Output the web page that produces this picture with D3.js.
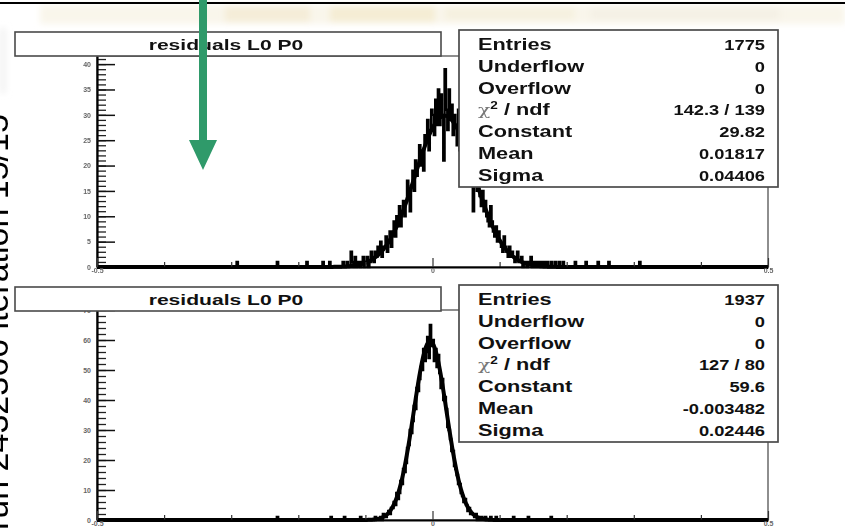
<!DOCTYPE html>
<html>
<head>
<meta charset="utf-8">
<script src="https://cdn.jsdelivr.net/npm/d3@7"></script>
<style>
  body { margin: 0; background: #fff; }
  svg { display: block; }
</style>
</head>
<body>
<svg id="chart" width="845" height="528"></svg>
<script>
// ---- histogram binning ----
const binWidth = 0.002;
const xDomain = [-0.5, 0.5];
const xMajorTicks = [-0.5, 0, 0.5];
const xMinorTicks = [-0.4, -0.3, -0.2, -0.1, 0.1, 0.2, 0.3, 0.4];

// ---- upper histogram: residuals L0 P0 ----
const title1 = "residuals L0 P0";
const core1Start = -0.14;
const core1Counts = [
  0, 0, 0, 1, 0,   0, 1, 0, 0, 3,   1, 0, 2, 0, 1,   1, 0, 1, 2, 0,
  1, 2, 0, 1, 3,   2, 1, 3, 2, 4,   3, 5, 2, 4, 4,   6, 3, 5, 7, 4,
  7, 9, 6, 10, 8,  12, 8, 11, 13, 10,  13, 17, 14, 11, 16,  19, 15, 21, 18, 20,
  24, 20, 23, 19, 26,  25, 29, 23, 27, 31,  30, 26, 33, 28, 35,  28, 34, 30, 21, 39,
  31, 27, 35, 29, 32,  26, 30, 28, 24, 31,  23, 27, 25, 21, 26,  22, 18, 21, 24, 19,
  11, 18, 16, 15, 17,  14, 12, 15, 11, 13,  10, 9, 8, 12, 9,  7, 6, 8, 5, 7,
  5, 4, 3, 6, 4,   3, 2, 4, 2, 3,   2, 1, 2, 3, 1,   1, 2, 0, 1, 1,
  0, 1, 1, 2, 0,   1, 0, 1, 0, 1,   0, 1, 0, 1, 0,   1, 0, 0, 1, 0,
  0, 1, 0, 0, 1,   0, 0, 1, 0, 0
];
const tail1 = [[-0.291, 1], [-0.231, 1], [-0.187, 1], [-0.163, 1], [-0.152, 1],
               [0.213, 1], [0.229, 1], [0.247, 1], [0.262, 1], [0.309, 1]];
const yMax1 = 41.6;
const yMajor1 = [0, 5, 10, 15, 20, 25, 30, 35, 40];
const yMinor1 = d3.range(0, 42, 1);
const entries1 = [1775, 0, 0];
const chi2ndf1 = [142.3, 139];
const fit1 = [29.82, 0.01817, 0.04406];   // Constant, Mean, Sigma

// ---- lower histogram: residuals L0 P0 ----
const title2 = "residuals L0 P0";
const core2Start = -0.09;
const core2Counts = [
  0, 0, 1, 0, 0,   0, 1, 0, 2, 1,   1, 2, 3, 2, 4,   4, 6, 5, 9, 7,
  9, 13, 12, 17, 16,  19, 24, 25, 30, 29,  33, 38, 37, 44, 43,  47, 51, 50, 57, 53,
  56, 61, 54, 65, 58,  60, 53, 57, 51, 55,  49, 44, 47, 40, 41,  37, 31, 30, 27, 23,
  23, 18, 17, 15, 12,  12, 9, 8, 6, 7,   5, 3, 4, 2, 2,   2, 1, 2, 0, 1,
  0, 1, 0, 0, 1,   0, 0, 0, 1, 0
];
const tail2 = [[-0.231, 1], [-0.151, 1], [-0.131, 1], [-0.107, 1],
               [0.095, 1], [0.121, 1], [0.143, 1], [0.177, 1]];
const yMax2 = 70;
const yMajor2 = [0, 10, 20, 30, 40, 50, 60, 70];
const yMinor2 = d3.range(0, 71, 2);
const entries2 = [1937, 0, 0];
const chi2ndf2 = [127, 80];
const fit2 = [59.6, -0.003482, 0.02446];

const statLabels = ["Entries", "Underflow", "Overflow", "chi", "Constant", "Mean", "Sigma"];
const sideLabel = "run 2432366 iteration 15/15";

const FONT = "'Liberation Sans', Arial, Helvetica, sans-serif";
const svg = d3.select("#chart");

// faint banner at the top edge
const defs = svg.append("defs");
defs.append("filter").attr("id", "soft").attr("x", "-10%").attr("y", "-50%")
  .attr("width", "120%").attr("height", "200%")
  .append("feGaussianBlur").attr("stdDeviation", 3);
const banner = svg.append("g").attr("filter", "url(#soft)");
[[40, 5, 805, 19, "#f7f2e2", 0.7], [225, 6, 85, 16, "#efe3c0", 0.45],
 [330, 6, 105, 16, "#f0e2b8", 0.45], [445, 7, 130, 13, "#f2ead3", 0.45],
 [590, 7, 190, 13, "#f0ece0", 0.45], [0, 28, 6, 65, "#ececec", 0.7]]
  .forEach(([x, y, w, h, c, o]) => banner.append("rect")
    .attr("x", x).attr("y", y).attr("width", w).attr("height", h)
    .attr("fill", c).attr("opacity", o));

svg.append("line").attr("x1", 0).attr("x2", 845).attr("y1", 3).attr("y2", 3)
  .attr("stroke", "#000").attr("stroke-width", 2);

function fillBins(start, core, tail) {
  const n = Math.round((xDomain[1] - xDomain[0]) / binWidth);
  const counts = new Array(n).fill(0);
  const i0 = Math.round((start - xDomain[0]) / binWidth);
  core.forEach((v, k) => { counts[i0 + k] += v; });
  tail.forEach(([x, c]) => { counts[Math.floor((x - xDomain[0]) / binWidth)] += c; });
  return counts;
}

function stretched(g, x, y, str, opt) {
  return g.append("text")
    .attr("transform", `translate(${x},${y}) scale(${opt.sx || 1},1)`)
    .attr("text-anchor", opt.anchor || "start")
    .attr("font-family", FONT)
    .attr("font-size", opt.size || 16)
    .attr("font-weight", opt.weight || "bold")
    .attr("fill", opt.fill || "#111")
    .text(str);
}

function drawPanel(cfg) {
  const g = svg.append("g");
  const L = 97, R = 768;
  const x = d3.scaleLinear().domain(xDomain).range([L, R]);
  const y = d3.scaleLinear().domain([0, cfg.yMax]).range([cfg.bottom, cfg.top]);
  const clipId = "clip" + cfg.id;
  defs.append("clipPath").attr("id", clipId).append("rect")
    .attr("x", L).attr("y", cfg.top).attr("width", R - L).attr("height", cfg.bottom - cfg.top + 3);

  // frame
  g.append("rect").attr("x", L).attr("y", cfg.top).attr("width", R - L)
    .attr("height", cfg.bottom - cfg.top).attr("fill", "none")
    .attr("stroke", "#444").attr("stroke-width", 1.2);

  // histogram outline
  const counts = fillBins(cfg.start, cfg.core, cfg.tail);
  const pts = [];
  counts.forEach((c, i) => {
    const lo = xDomain[0] + i * binWidth;
    pts.push([lo, c], [lo + binWidth, c]);
  });
  g.append("path").attr("clip-path", `url(#${clipId})`)
    .attr("d", d3.line().x(d => x(d[0])).y(d => y(d[1]))(pts))
    .attr("fill", "none").attr("stroke", "#000").attr("stroke-width", 2.4)
    .attr("stroke-linejoin", "miter");

  // gaussian fit from Constant, Mean, Sigma
  const [C, mu, sg] = cfg.fit;
  const fx = d3.range(0, 2001).map(k => xDomain[0] + k * (xDomain[1] - xDomain[0]) / 2000);
  g.append("path").attr("clip-path", `url(#${clipId})`)
    .attr("d", d3.line().x(v => x(v)).y(v => y(C * Math.exp(-0.5 * ((v - mu) / sg) ** 2)))(fx))
    .attr("fill", "none").attr("stroke", "#000").attr("stroke-width", 4)
    .attr("stroke-linejoin", "round");

  // y axis (ticks pointing into the frame)
  const yMinorAxis = g.append("g").attr("transform", `translate(${L},0)`)
    .call(d3.axisLeft(y).tickValues(cfg.yMinor.filter(v => v <= cfg.yMax))
      .tickSizeInner(-9).tickSizeOuter(0).tickFormat(""));
  yMinorAxis.select(".domain").remove();
  yMinorAxis.selectAll("line").attr("stroke", "#222").attr("stroke-width", 1.3);
  const yAxis = g.append("g").attr("transform", `translate(${L},0)`)
    .call(d3.axisLeft(y).tickValues(cfg.yMajor).tickSizeInner(-18).tickSizeOuter(0).tickPadding(6));
  yAxis.select(".domain").attr("stroke", "#000").attr("stroke-width", 2.2);
  yAxis.selectAll("line").attr("stroke", "#111").attr("stroke-width", 1.5);
  yAxis.selectAll("text").attr("font-family", FONT).attr("font-size", 7)
    .attr("font-weight", "bold").attr("fill", "#666");

  // x axis
  const xMinorAxis = g.append("g").attr("transform", `translate(0,${cfg.bottom})`)
    .call(d3.axisBottom(x).tickValues(xMinorTicks).tickSizeInner(-5).tickSizeOuter(0).tickFormat(""));
  xMinorAxis.select(".domain").remove();
  xMinorAxis.selectAll("line").attr("stroke", "#333").attr("stroke-width", 1.2);
  const xAxis = g.append("g").attr("transform", `translate(0,${cfg.bottom})`)
    .call(d3.axisBottom(x).tickValues(xMajorTicks).tickSizeInner(-9).tickSizeOuter(0)
      .tickPadding(1).tickFormat(d => String(d)));
  xAxis.select(".domain").attr("stroke", "#000").attr("stroke-width", 2.2);
  xAxis.selectAll("line").attr("stroke", "#333").attr("stroke-width", 1.2);
  xAxis.selectAll("text").attr("font-family", FONT).attr("font-size", 7)
    .attr("font-weight", "bold").attr("fill", "#666");

  // title box
  g.append("rect").attr("x", 15).attr("y", cfg.titleTop).attr("width", 426).attr("height", 24)
    .attr("fill", "#fff").attr("stroke", "#4a4a4a").attr("stroke-width", 1.6);
  stretched(g, 226, cfg.titleTop + 18, cfg.title, { sx: 1.36, anchor: "middle", size: 15.5 });

  // statistics box
  const bx = 459, bw = 319, bh = 157;
  g.append("rect").attr("x", bx).attr("y", cfg.boxTop).attr("width", bw).attr("height", bh)
    .attr("fill", "#fff").attr("stroke", "#4a4a4a").attr("stroke-width", 1.7);
  const values = [String(cfg.entries[0]), String(cfg.entries[1]), String(cfg.entries[2]),
    `${cfg.chi2[0]} / ${cfg.chi2[1]}`, String(cfg.fit[0]), String(cfg.fit[1]), String(cfg.fit[2])];
  statLabels.forEach((lab, k) => {
    const by = cfg.boxTop + 20 + 21.8 * k;
    if (lab === "chi") {
      const t = stretched(g, 478, by, "", { sx: 1.36, size: 16 });
      t.append("tspan").attr("font-weight", "normal").attr("fill", "#777")
        .attr("font-family", "'DejaVu Serif', serif").attr("font-size", 15).text("χ");
      t.append("tspan").attr("font-size", 10).attr("dy", -6).text("2");
      t.append("tspan").attr("dy", 6).text(" / ndf");
    } else {
      stretched(g, 478, by, lab, { sx: 1.36, size: 16 });
    }
    stretched(g, 765, by, values[k], { sx: 1.18, size: 15.5, anchor: "end" });
  });
}

drawPanel({ id: 1, top: 56, bottom: 267, titleTop: 32, boxTop: 30, yMax: yMax1,
  yMajor: yMajor1, yMinor: yMinor1, start: core1Start, core: core1Counts, tail: tail1,
  fit: fit1, entries: entries1, chi2: chi2ndf1, title: title1 });
drawPanel({ id: 2, top: 310, bottom: 520, titleTop: 287, boxTop: 285, yMax: yMax2,
  yMajor: yMajor2, yMinor: yMinor2, start: core2Start, core: core2Counts, tail: tail2,
  fit: fit2, entries: entries2, chi2: chi2ndf2, title: title2 });

// rotated run label along the left edge
svg.append("text")
  .attr("transform", "translate(8,530) rotate(-90)")
  .attr("font-family", FONT).attr("font-size", 34).attr("fill", "#000")
  .text(sideLabel);

// green pointer arrow
const arrow = svg.append("g").attr("fill", "#2f9a6a");
arrow.append("rect").attr("x", 199).attr("y", 0).attr("width", 8).attr("height", 144);
arrow.append("path").attr("d", "M189,140 L217,140 L203,170 Z");
</script>
</body>
</html>
